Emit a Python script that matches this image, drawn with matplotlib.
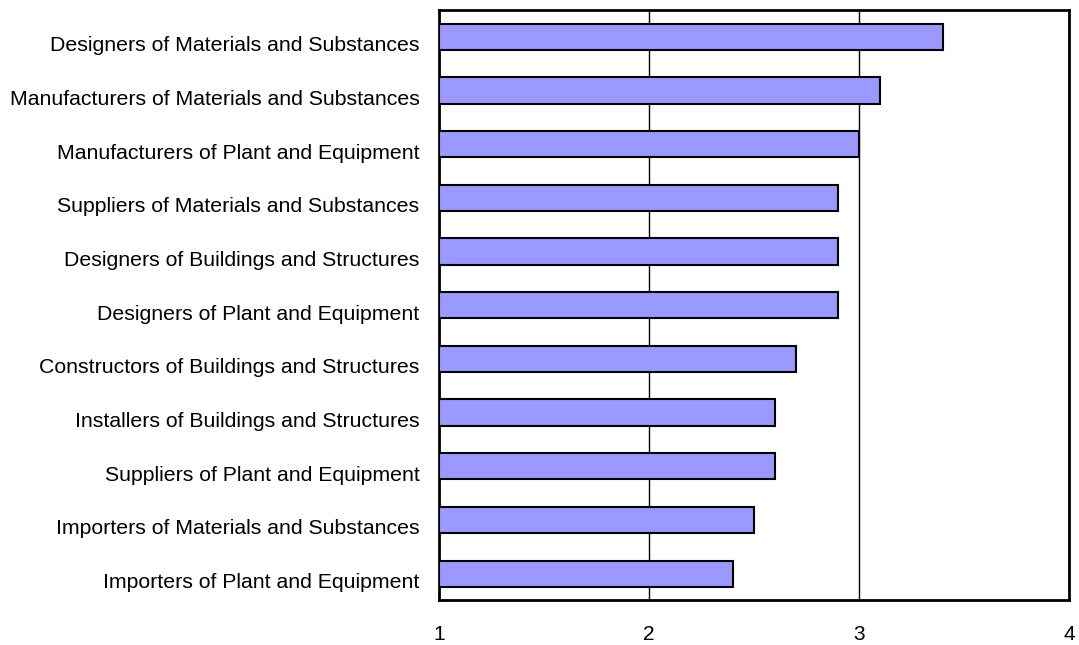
import matplotlib.pyplot as plt
import matplotlib.transforms as mtransforms

plt.rcParams['font.family'] = ['Liberation Sans', 'DejaVu Sans']

# categories listed bottom to top
categories = [
    'Importers of Plant and Equipment',
    'Importers of Materials and Substances',
    'Suppliers of Plant and Equipment',
    'Installers of Buildings and Structures',
    'Constructors of Buildings and Structures',
    'Designers of Plant and Equipment',
    'Designers of Buildings and Structures',
    'Suppliers of Materials and Substances',
    'Manufacturers of Plant and Equipment',
    'Manufacturers of Materials and Substances',
    'Designers of Materials and Substances',
]
scores = [2.4, 2.5, 2.6, 2.6, 2.7, 2.9, 2.9, 2.9, 3.0, 3.1, 3.4]
x_ticks = [1, 2, 3, 4]

fig = plt.figure(figsize=(10.79, 6.45), dpi=100)
ax = fig.add_axes([0.4069, 0.069, 0.584, 0.9155])

base = 1
ax.barh(range(len(categories)), [s - base for s in scores], left=base,
        height=0.49, color='#9999FF', edgecolor='black', linewidth=1.5, zorder=3)

ax.set_xlim(1, 4)
ax.set_ylim(-0.5, len(categories) - 0.5)
ax.set_xticks(x_ticks)
ax.set_xticklabels([str(t) for t in x_ticks], fontsize=15)
ax.set_yticks(range(len(categories)))
ax.set_yticklabels(categories, fontsize=15.3)
ax.tick_params(axis='both', length=0)
ax.tick_params(axis='x', pad=18)
ax.tick_params(axis='y', pad=14)

# nudge category labels down a little
shift = mtransforms.ScaledTranslation(0, -5 / 72, fig.dpi_scale_trans)
for lbl in ax.get_yticklabels():
    lbl.set_transform(lbl.get_transform() + shift)

for v in [2, 3]:
    ax.axvline(v, color='black', linewidth=1, zorder=1)

for spine in ax.spines.values():
    spine.set_linewidth(2)
    spine.set_color('black')

fig.savefig('out.png', dpi=100)
